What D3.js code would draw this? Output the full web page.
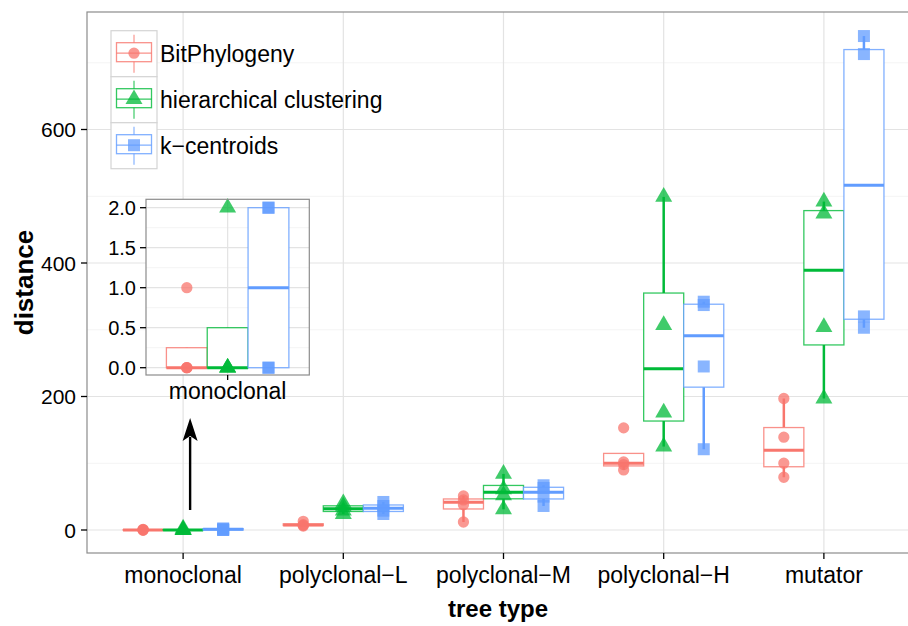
<!DOCTYPE html>
<html>
<head>
<meta charset="utf-8">
<script src="https://cdn.jsdelivr.net/npm/d3@7"></script>
<style>
  body { margin: 0; background: #fff; }
  text { font-family: "Liberation Sans", Arial, Helvetica, sans-serif; fill: #000; }
</style>
</head>
<body>
<div id="chart"></div>
<script>
// tree types on the x axis
const categories = ["monoclonal", "polyclonal\u2212L", "polyclonal\u2212M", "polyclonal\u2212H", "mutator"];
const methods = ["BitPhylogeny", "hierarchical clustering", "k\u2212centroids"];

// distances per tree type (4 runs each)
const bitPhylogeny = [[0, 0, 0, 1], [6, 7, 8, 13], [12, 38, 45, 51], [90, 98, 102, 153], [79, 100, 139, 197]];
const hierarchical = [[0, 0, 0, 2], [24, 29, 35, 40], [31, 52, 61, 84], [125, 176, 307, 499], [197, 304, 474, 492]];
const kCentroids = [[0, 0, 2, 2], [24, 29, 36, 42], [36, 50, 63, 67], [121, 245, 337, 342], [303, 320, 713, 740]];

const yTicks = [0, 200, 400, 600];
const yMinor = [100, 300, 500, 700];
const insetTicks = [0, 0.5, 1, 1.5, 2];
const insetMinor = [0.25, 0.75, 1.25, 1.75];

const colors = ["#F8766D", "#00BA38", "#619CFF"];
const shapes = [d3.symbolCircle, d3.symbolTriangle, d3.symbolSquare];
const shapeSize = [100, 125, 144];

const seriesValues = [bitPhylogeny, hierarchical, kCentroids];

const W = 908, H = 626;
const panel = { left: 87, right: 920, top: 12, bottom: 553 };

const svg = d3.select("#chart").append("svg").attr("width", W).attr("height", H);
svg.append("rect").attr("width", W).attr("height", H).attr("fill", "#fff");

const x = d3.scalePoint().domain(categories).range([panel.left, panel.right]).padding(0.6);
const dodge = d3.scaleBand().domain(methods).range([-0.375 * x.step(), 0.375 * x.step()]);
const y = d3.scaleLinear().domain([0, 600]).range([530, 129.5]);

function boxStats(vals) {
  const s = vals.slice().sort(d3.ascending);
  const q1 = d3.quantile(s, 0.25), med = d3.quantile(s, 0.5), q3 = d3.quantile(s, 0.75);
  const iqr = q3 - q1;
  const lo = d3.min(s.filter(v => v >= q1 - 1.5 * iqr));
  const hi = d3.max(s.filter(v => v <= q3 + 1.5 * iqr));
  return { q1, med, q3, lo, hi };
}

// build a flat table for drawing
const groups = [];
categories.forEach((c, ci) => {
  methods.forEach((m, mi) => {
    groups.push({ cat: c, method: m, mi, values: seriesValues[mi][ci], stats: boxStats(seriesValues[mi][ci]) });
  });
});

// panel grid
const g = svg.append("g");
g.selectAll(".minor").data(yMinor).join("line")
  .attr("x1", panel.left).attr("x2", panel.right)
  .attr("y1", d => y(d)).attr("y2", d => y(d))
  .attr("stroke", "#f4f4f4").attr("stroke-width", 1);
g.selectAll(".major").data(yTicks).join("line")
  .attr("x1", panel.left).attr("x2", panel.right)
  .attr("y1", d => y(d)).attr("y2", d => y(d))
  .attr("stroke", "#e3e3e3").attr("stroke-width", 1.2);
g.selectAll(".vmajor").data(categories).join("line")
  .attr("x1", d => x(d)).attr("x2", d => x(d))
  .attr("y1", panel.top).attr("y2", panel.bottom)
  .attr("stroke", "#e3e3e3").attr("stroke-width", 1.2);

function drawBoxes(sel, data, xs, ys, bw, opts) {
  const bg = sel.selectAll(null).data(data).join("g")
    .attr("transform", d => `translate(${xs(d)},0)`);
  bg.append("line")
    .attr("y1", d => ys(d.stats.q3)).attr("y2", d => ys(d.stats.hi))
    .attr("stroke", d => colors[d.mi]).attr("stroke-width", opts.whisker);
  bg.append("line")
    .attr("y1", d => ys(d.stats.q1)).attr("y2", d => ys(d.stats.lo))
    .attr("stroke", d => colors[d.mi]).attr("stroke-width", opts.whisker);
  bg.append("rect")
    .attr("x", -bw / 2).attr("width", bw)
    .attr("y", d => ys(d.stats.q3)).attr("height", d => ys(d.stats.q1) - ys(d.stats.q3))
    .attr("fill", "#fff").attr("stroke", d => colors[d.mi])
    .attr("stroke-opacity", 0.8).attr("stroke-width", 1.3);
  bg.append("line")
    .attr("x1", -bw / 2).attr("x2", bw / 2)
    .attr("y1", d => ys(d.stats.med)).attr("y2", d => ys(d.stats.med))
    .attr("stroke", d => colors[d.mi]).attr("stroke-width", opts.median);
  bg.selectAll("path").data(d => d.values.map(v => ({ v, mi: d.mi }))).join("path")
    .attr("transform", p => `translate(0,${ys(p.v)})`)
    .attr("d", p => d3.symbol(shapes[p.mi], shapeSize[p.mi])())
    .attr("fill", p => colors[p.mi]).attr("fill-opacity", 0.75);
}

drawBoxes(svg.append("g"), groups, d => x(d.cat) + dodge(d.method) + dodge.bandwidth() / 2, y,
  dodge.bandwidth(), { whisker: 2.5, median: 3 });

// panel border
svg.append("rect")
  .attr("x", panel.left).attr("y", panel.top)
  .attr("width", panel.right - panel.left).attr("height", panel.bottom - panel.top)
  .attr("fill", "none").attr("stroke", "#8c8c8c").attr("stroke-width", 1.2);

// axes
const yAxis = svg.append("g");
yAxis.selectAll("line").data(yTicks).join("line")
  .attr("x1", panel.left - 6).attr("x2", panel.left)
  .attr("y1", d => y(d)).attr("y2", d => y(d))
  .attr("stroke", "#000").attr("stroke-width", 1.3);
yAxis.selectAll("text").data(yTicks).join("text")
  .attr("x", panel.left - 11).attr("y", d => y(d)).attr("dy", "0.36em")
  .attr("text-anchor", "end").attr("font-size", 21).text(d => d);

const xAxis = svg.append("g");
xAxis.selectAll("line").data(categories).join("line")
  .attr("x1", d => x(d)).attr("x2", d => x(d))
  .attr("y1", panel.bottom).attr("y2", panel.bottom + 6)
  .attr("stroke", "#000").attr("stroke-width", 1.3);
xAxis.selectAll("text").data(categories).join("text")
  .attr("x", d => x(d)).attr("y", panel.bottom + 30)
  .attr("text-anchor", "middle").attr("font-size", 23).text(d => d);

svg.append("text").attr("x", 498).attr("y", 617)
  .attr("text-anchor", "middle").attr("font-size", 24).attr("font-weight", "bold").text("tree type");
svg.append("text").attr("transform", "translate(33,282.5) rotate(-90)")
  .attr("text-anchor", "middle").attr("font-size", 26).attr("font-weight", "bold").text("distance");

// legend
const key = 46;
const legend = svg.append("g").attr("transform", "translate(111,30.7)");
const items = legend.selectAll("g").data(methods).join("g")
  .attr("transform", (d, i) => `translate(0,${i * key})`);
items.append("rect").attr("width", key).attr("height", key)
  .attr("fill", "#fff").attr("stroke", "#d4d4d4").attr("stroke-width", 1.2);
items.append("line").attr("x1", key / 2).attr("x2", key / 2).attr("y1", 4).attr("y2", 42)
  .attr("stroke", (d, i) => colors[i]).attr("stroke-opacity", 0.7).attr("stroke-width", 1.3);
items.append("rect").attr("x", key / 2 - 17.5).attr("width", 35).attr("y", 12).attr("height", 19)
  .attr("fill", "#fff").attr("stroke", (d, i) => colors[i]).attr("stroke-opacity", 0.8).attr("stroke-width", 1.3);
items.append("line").attr("x1", key / 2 - 17.5).attr("x2", key / 2 + 17.5).attr("y1", 22.5).attr("y2", 22.5)
  .attr("stroke", (d, i) => colors[i]).attr("stroke-opacity", 0.8).attr("stroke-width", 1.3);
items.append("path").attr("transform", `translate(${key / 2},${22.5})`)
  .attr("d", (d, i) => d3.symbol(shapes[i], shapeSize[i])())
  .attr("fill", (d, i) => colors[i]).attr("fill-opacity", 0.75);
items.append("text").attr("x", key + 3).attr("y", key / 2).attr("dy", "0.36em")
  .attr("font-size", 23).text(d => d);

// arrow pointing to the inset
const ax = x(categories[0]) + 7;
const tipY = 418, baseY = 441;
svg.append("line").attr("x1", ax).attr("x2", ax).attr("y1", y(30)).attr("y2", baseY - 4)
  .attr("stroke", "#000").attr("stroke-width", 2.4);
svg.append("path")
  .attr("d", d3.line()([[ax, tipY], [ax + 7.5, baseY], [ax, baseY - 5], [ax - 7.5, baseY]]) + "Z")
  .attr("fill", "#000");

// inset: monoclonal close-up
const inset = { left: 146, right: 309.3, top: 199.3, bottom: 375 };
const ix = d3.scalePoint().domain([categories[0]]).range([inset.left, inset.right]).padding(0.6);
const idodge = d3.scaleBand().domain(methods).range([-0.45 * ix.step(), 0.45 * ix.step()]);
const iy = d3.scaleLinear().domain([0, 2]).range([367.7, 207.7]);
const ig = svg.append("g");
ig.append("rect").attr("x", inset.left).attr("y", inset.top)
  .attr("width", inset.right - inset.left).attr("height", inset.bottom - inset.top).attr("fill", "#fff");
ig.selectAll(".minor").data(insetMinor).join("line")
  .attr("x1", inset.left).attr("x2", inset.right).attr("y1", d => iy(d)).attr("y2", d => iy(d))
  .attr("stroke", "#f4f4f4");
ig.selectAll(".major").data(insetTicks).join("line")
  .attr("x1", inset.left).attr("x2", inset.right).attr("y1", d => iy(d)).attr("y2", d => iy(d))
  .attr("stroke", "#e3e3e3").attr("stroke-width", 1.2);
ig.append("line").attr("x1", ix(categories[0])).attr("x2", ix(categories[0]))
  .attr("y1", inset.top).attr("y2", inset.bottom).attr("stroke", "#e3e3e3").attr("stroke-width", 1.2);

drawBoxes(ig.append("g"), groups.filter(d => d.cat === categories[0]),
  d => ix(d.cat) + idodge(d.method) + idodge.bandwidth() / 2, iy,
  idodge.bandwidth(), { whisker: 2.5, median: 3 });

ig.append("rect").attr("x", inset.left).attr("y", inset.top)
  .attr("width", inset.right - inset.left).attr("height", inset.bottom - inset.top)
  .attr("fill", "none").attr("stroke", "#8c8c8c").attr("stroke-width", 1.2);
ig.selectAll(".tk").data(insetTicks).join("line")
  .attr("x1", inset.left - 6).attr("x2", inset.left).attr("y1", d => iy(d)).attr("y2", d => iy(d))
  .attr("stroke", "#000").attr("stroke-width", 1.3);
ig.selectAll(".tl").data(insetTicks).join("text")
  .attr("x", inset.left - 10).attr("y", d => iy(d)).attr("dy", "0.36em")
  .attr("text-anchor", "end").attr("font-size", 20).text(d => d3.format(".1f")(d));
ig.append("line").attr("x1", ix(categories[0])).attr("x2", ix(categories[0]))
  .attr("y1", inset.bottom).attr("y2", inset.bottom + 5).attr("stroke", "#000").attr("stroke-width", 1.3);
ig.append("text").attr("x", ix(categories[0])).attr("y", inset.bottom + 24)
  .attr("text-anchor", "middle").attr("font-size", 23).text(categories[0]);
</script>
</body>
</html>
